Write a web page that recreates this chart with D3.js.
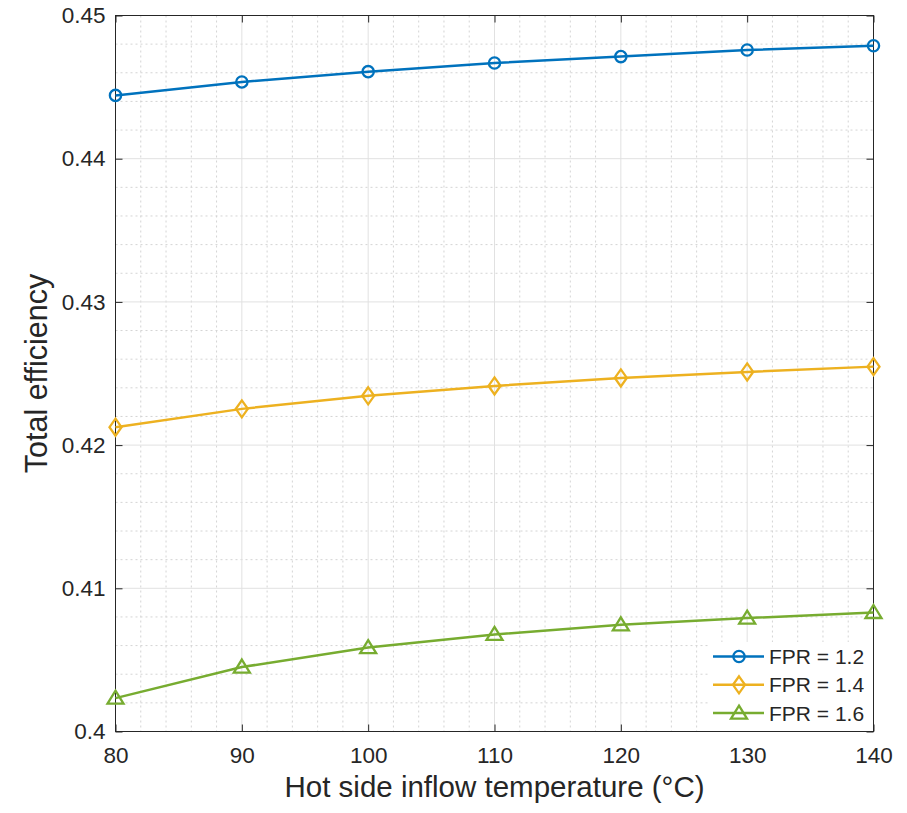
<!DOCTYPE html>
<html>
<head>
<meta charset="utf-8">
<script src="https://cdn.jsdelivr.net/npm/d3@7"></script>
<style>
  body { margin: 0; background: #fff; }
  svg { display: block; font-family: "Liberation Sans", Arial, Helvetica, sans-serif; }
</style>
</head>
<body>
<svg id="chart" width="907" height="813"></svg>
<script>
// Inflow temperature (°C) on the x axis
const temperatures = [80, 90, 100, 110, 120, 130, 140];

// Total efficiency for each fan pressure ratio
const effFPR12 = [0.44442, 0.44536, 0.44608, 0.44668, 0.44713, 0.44759, 0.44789];
const effFPR14 = [0.42125, 0.42253, 0.42344, 0.42413, 0.42469, 0.42511, 0.42548];
const effFPR16 = [0.40233, 0.40450, 0.40586, 0.40678, 0.40745, 0.40792, 0.40831];

const seriesNames = ["FPR = 1.2", "FPR = 1.4", "FPR = 1.6"];
const xTicks = [80, 90, 100, 110, 120, 130, 140];
const yTicks = [0.40, 0.41, 0.42, 0.43, 0.44, 0.45];
const yTickLabels = ["0.4", "0.41", "0.42", "0.43", "0.44", "0.45"];

const series = [
  { name: seriesNames[0], values: effFPR12, color: "#0072BD", marker: "circle" },
  { name: seriesNames[1], values: effFPR14, color: "#EDB120", marker: "diamond" },
  { name: seriesNames[2], values: effFPR16, color: "#77AC30", marker: "triangle" }
];

const svg = d3.select("#chart");
const plot = { left: 115.5, right: 873.5, top: 15.5, bottom: 731.5 };
const textColor = "#262626";

const x = d3.scaleLinear().domain([80, 140]).range([plot.left, plot.right]);
const y = d3.scaleLinear().domain([0.40, 0.45]).range([plot.bottom, plot.top]);

// Minor grid (dotted)
const xMinor = d3.range(80, 140.001, 2).filter(v => v % 10 !== 0);
const yMinor = d3.range(0, 26).map(i => 0.40 + i * 0.002).filter((v, i) => i % 5 !== 0);
const grid = svg.append("g");
grid.selectAll(".xminor").data(xMinor).join("line")
  .attr("x1", d => x(d)).attr("x2", d => x(d))
  .attr("y1", plot.top).attr("y2", plot.bottom)
  .attr("stroke", "#d4d4d4").attr("stroke-width", 1).attr("stroke-dasharray", "2,3");
grid.selectAll(".yminor").data(yMinor).join("line")
  .attr("y1", d => y(d)).attr("y2", d => y(d))
  .attr("x1", plot.left).attr("x2", plot.right)
  .attr("stroke", "#d4d4d4").attr("stroke-width", 1).attr("stroke-dasharray", "2,3");

// Major grid (solid)
grid.selectAll(".xmajor").data(xTicks).join("line")
  .attr("x1", d => x(d)).attr("x2", d => x(d))
  .attr("y1", plot.top).attr("y2", plot.bottom)
  .attr("stroke", "#e1e1e1").attr("stroke-width", 1);
grid.selectAll(".ymajor").data(yTicks).join("line")
  .attr("y1", d => y(d)).attr("y2", d => y(d))
  .attr("x1", plot.left).attr("x2", plot.right)
  .attr("stroke", "#e1e1e1").attr("stroke-width", 1);

// Axes with inward ticks on all four sides
const tickLen = 7;
const axBottom = d3.axisBottom(x).tickValues(xTicks).tickSize(-tickLen).tickPadding(16).tickFormat(d3.format("d"));
const axTop = d3.axisTop(x).tickValues(xTicks).tickSize(-tickLen).tickFormat("");
const axLeft = d3.axisLeft(y).tickValues(yTicks).tickSize(-tickLen).tickPadding(10)
  .tickFormat((d, i) => yTickLabels[i]);
const axRight = d3.axisRight(y).tickValues(yTicks).tickSize(-tickLen).tickFormat("");

function styleAxis(g) {
  g.select(".domain").attr("stroke", textColor).attr("stroke-width", 1);
  g.selectAll(".tick line").attr("stroke", textColor).attr("stroke-width", 1);
  g.selectAll(".tick text").attr("fill", textColor).attr("font-size", 22.5)
    .attr("font-family", "'Liberation Sans', Arial, sans-serif");
}
svg.append("g").attr("transform", `translate(0,${plot.bottom})`).call(axBottom).call(styleAxis);
svg.append("g").attr("transform", `translate(0,${plot.top})`).call(axTop).call(styleAxis);
svg.append("g").attr("transform", `translate(${plot.left},0)`).call(axLeft).call(styleAxis);
svg.append("g").attr("transform", `translate(${plot.right},0)`).call(axRight).call(styleAxis);
svg.selectAll(".domain").attr("d", null);
svg.append("rect")
  .attr("x", plot.left).attr("y", plot.top)
  .attr("width", plot.right - plot.left).attr("height", plot.bottom - plot.top)
  .attr("fill", "none").attr("stroke", textColor).attr("stroke-width", 1);

// Marker shapes
function markerPath(type) {
  if (type === "circle") return d3.symbol(d3.symbolCircle, 100)();
  if (type === "diamond") return "M0,-8.5L6,0L0,8.5L-6,0Z";
  return "M0,-7.5L8,5.5L-8,5.5Z";
}

// Series lines and markers
const line = d3.line().x((d, i) => x(temperatures[i])).y(d => y(d));
const seriesG = svg.append("g");
series.forEach(s => {
  seriesG.append("path").datum(s.values)
    .attr("d", line).attr("fill", "none")
    .attr("stroke", s.color).attr("stroke-width", 2.5);
  seriesG.selectAll(null).data(s.values).join("path")
    .attr("transform", (d, i) => `translate(${x(temperatures[i])},${y(d)})`)
    .attr("d", markerPath(s.marker))
    .attr("fill", "none").attr("stroke", s.color).attr("stroke-width", 2.3);
});

// Legend
const legend = svg.append("g");
legend.append("rect")
  .attr("x", 709).attr("y", 642).attr("width", plot.right - 709 - 0.5).attr("height", plot.bottom - 642 - 0.5)
  .attr("fill", "#fff");
series.forEach((s, i) => {
  const ly = 656.5 + i * 28.3;
  legend.append("line").attr("x1", 713).attr("x2", 764).attr("y1", ly).attr("y2", ly)
    .attr("stroke", s.color).attr("stroke-width", 2.5);
  legend.append("path").attr("transform", `translate(739,${ly})`)
    .attr("d", markerPath(s.marker))
    .attr("fill", "none").attr("stroke", s.color).attr("stroke-width", 2.3);
  legend.append("text").attr("x", 769).attr("y", ly).attr("dy", "0.36em")
    .attr("font-size", 21).attr("fill", textColor).text(s.name);
});

// Axis titles
svg.append("text")
  .attr("x", (plot.left + plot.right) / 2).attr("y", 797)
  .attr("text-anchor", "middle").attr("font-size", 29.5).attr("fill", textColor)
  .text("Hot side inflow temperature (°C)");
svg.append("text")
  .attr("transform", `translate(47,${(plot.top + plot.bottom) / 2}) rotate(-90)`)
  .attr("text-anchor", "middle").attr("font-size", 30.5).attr("fill", textColor)
  .text("Total efficiency");
</script>
</body>
</html>
